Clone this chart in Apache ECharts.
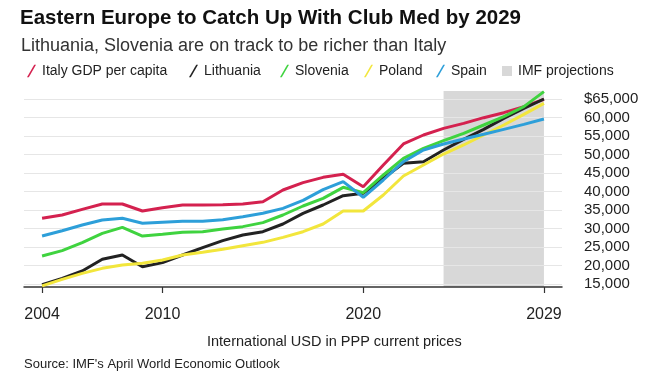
<!DOCTYPE html>
<html>
<head>
<meta charset="utf-8">
<script src="https://cdn.jsdelivr.net/npm/echarts@6/dist/echarts.min.js"></script>
<style>
html,body{margin:0;padding:0;background:#fff;}
#chart{width:657px;height:378px;}
</style>
</head>
<body>
<div id="chart"></div>
<script>
const years = [2004,2005,2006,2007,2008,2009,2010,2011,2012,2013,2014,2015,2016,2017,2018,2019,2020,2021,2022,2023,2024,2025,2026,2027,2028,2029];
const italy     = [32750,33650,35180,36620,36620,34730,35630,36350,36350,36440,36620,37250,40400,42400,43830,44640,41300,47160,52840,55270,57070,58420,59950,61300,62930,64910];
const lithuania = [14800,16530,18510,21670,22840,19680,20770,22840,24820,26710,28240,29140,31220,34100,36350,38870,39500,43560,47610,48060,51220,54100,56800,59770,62480,65000];
const slovenia  = [22570,24010,26170,28690,30320,27970,28420,28960,29140,29860,30500,31580,33650,36080,38150,41130,39680,44460,48960,51670,53740,55720,57970,60230,62930,66980];
const poland    = [14500,16260,17880,19230,20130,20590,21490,22840,23560,24370,25360,26260,27610,29140,31220,34730,34730,39050,44190,47160,50130,52570,55270,57970,60860,63830];
const spain     = [27970,29410,30950,32300,32750,31400,31670,31940,31940,32390,33200,34100,35450,37600,40500,42660,38430,43110,48060,51220,52840,54190,55450,56800,58150,59600];
const xTickLabels = [2004,2010,2020,2029];
const yTickValues = [15000,20000,25000,30000,35000,40000,45000,50000,55000,60000,65000];
const projectionStart = 2024;
const projectionEnd = 2029;

const names = ['Italy GDP per capita','Lithuania','Slovenia','Poland','Spain'];
const colors = ['#d4214f','#222222','#3fd33f','#f2e63c','#2d9fd9'];
const values = [italy,lithuania,slovenia,poland,spain];

const slash = 'path://M8,0 L10,0 L2,14 L0,14 Z';
const font = '"Liberation Sans", Arial, sans-serif';

const chart = echarts.init(document.getElementById('chart'));

const lineSeries = names.map((n,i)=>({
  name:n, type:'line', z:3, clip:false, showSymbol:false, symbol:'none',
  data: years.map((y,j)=>[y, values[i][j]]),
  lineStyle:{color:colors[i], width:3},
  itemStyle:{color:colors[i]},
  emphasis:{disabled:true}
}));

const legendLefts = [22,184,275,359,431,497];
const legendNames = names.concat(['IMF projections']);

chart.setOption({
  animation:false,
  textStyle:{fontFamily:font},
  title:[
    {text:'Eastern Europe to Catch Up With Club Med by 2029', left:20, top:8, padding:0,
     textStyle:{fontSize:20.5, fontWeight:'bold', color:'#111', fontFamily:font}},
    {text:'Lithuania, Slovenia are on track to be richer than Italy', left:21, top:37, padding:0,
     textStyle:{fontSize:18, fontWeight:'normal', color:'#333', fontFamily:font}},
    {text:'International USD in PPP current prices', left:207, top:334, padding:0,
     textStyle:{fontSize:14.5, fontWeight:'normal', color:'#222', fontFamily:font}},
    {text:"Source: IMF's April World Economic Outlook", left:24, top:358, padding:0,
     textStyle:{fontSize:13, fontWeight:'normal', color:'#222', fontFamily:font}}
  ],
  legend: legendNames.map((n,i)=>({
    data:[{name:n, icon: i===5 ? 'rect' : slash}],
    left:legendLefts[i], top:59, itemWidth: i===5 ? 10 : 9, itemHeight: i===5 ? 10 : 14,
    itemGap:0, selectedMode:false,
    textStyle:{fontSize:14, color:'#222', fontFamily:font, padding:[0,0,0,1]}
  })),
  grid:{left:24, right:95, top:91, bottom:91, containLabel:false},
  xAxis:{
    type:'value', min:2003.1, max:2029.9, z:2,
    axisLine:{show:true, lineStyle:{color:'#333', width:1.5}},
    axisTick:{show:true, customValues:xTickLabels, length:6, lineStyle:{color:'#333', width:1.2}},
    axisLabel:{customValues:xTickLabels, fontSize:16, color:'#222', margin:20, fontFamily:font,
      formatter:v=>String(v)},
    splitLine:{show:false}
  },
  yAxis:{
    type:'value', position:'right', min:14190, max:67160, z:2,
    axisLine:{show:false},
    axisTick:{show:false, customValues:yTickValues},
    axisLabel:{customValues:yTickValues, fontSize:15, color:'#222', margin:22, fontFamily:font,
      formatter:v=> (v===65000?'$':'') + v.toLocaleString('en-US')},
    splitLine:{lineStyle:{color:'#e6e6e6', width:1.2}}
  },
  series:[
    {name:'IMF projections', type:'line', z:1, data:[], itemStyle:{color:'#d8d8d8'},
     markArea:{silent:true, z:1, itemStyle:{color:'#d8d8d8'},
       data:[[{xAxis:projectionStart, yAxis:14190},{xAxis:projectionEnd, yAxis:67160}]]}}
  ].concat(lineSeries)
});
</script>
</body>
</html>
